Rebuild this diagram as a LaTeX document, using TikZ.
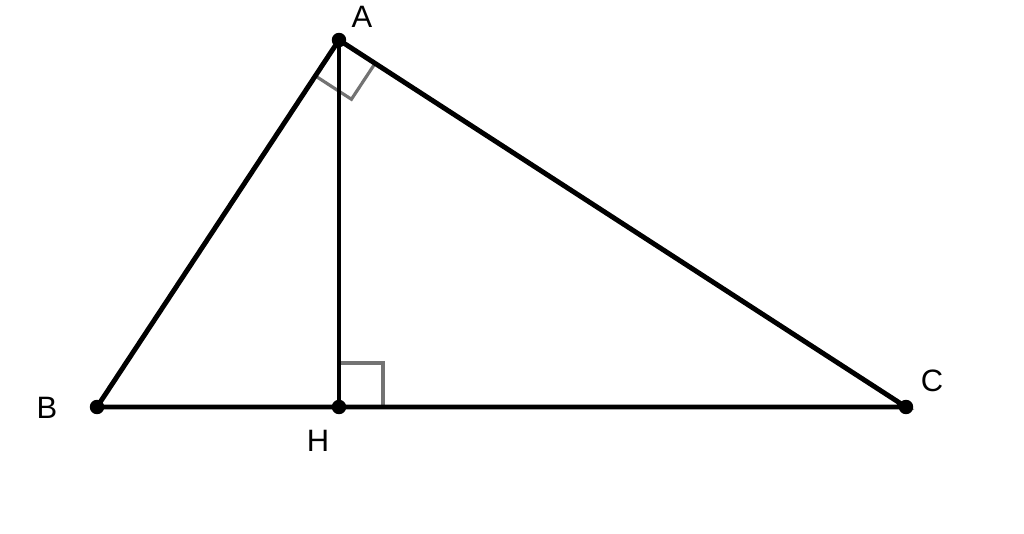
\documentclass[tikz,border=0pt]{standalone}
\usepackage{fontspec}
\setmainfont{Liberation Sans}
\usetikzlibrary{calc}
\tikzset{
	side/.style={line width=1.4pt, color=black},
	anglemark/.style={line width=0.9pt, color=black!55},
	pt/.style={fill=black},
	lbl/.style={font=\fontsize{8.8}{10}\selectfont, inner sep=0pt}
}
\begin{document}
\begin{tikzpicture}
			%%%%% START %%%%%
			
			\useasboundingbox (0, 0) rectangle (10.24, 5.33);
			
			\coordinate (A) at (3.39, 4.93);
			\coordinate (B) at (0.97, 1.26);
			\coordinate (C) at (9.06, 1.26);
			\coordinate (H) at (3.39, 1.26);
			
			\coordinate (ab) at ($(A)!0.43cm!(B)$);
			\coordinate (ac) at ($(A)!0.43cm!(C)$);
			\draw[anglemark] (ab) -- ($(ab)+(ac)-(A)$) -- (ac);
			\draw[anglemark] (3.39, 1.70) -- (3.83, 1.70) -- (3.83, 1.26);
			
			\draw[side] (A) -- (B) -- (C) -- cycle;
			\draw[side] (A) -- (H);
			
			\draw[pt] (A) circle (0.065);
			\draw[pt] (B) circle (0.065);
			\draw[pt] (C) circle (0.065);
			\draw[pt] (H) circle (0.065);
			
			\node[lbl] (lA) at (3.62, 5.16) {A};
			\node[lbl] (lB) at (0.47, 1.25) {B};
			\node[lbl] (lC) at (9.32, 1.52) {C};
			\node[lbl] (lH) at (3.18, 0.92) {H};
			
			%%%%% END %%%%%
		\end{tikzpicture}
\end{document}
